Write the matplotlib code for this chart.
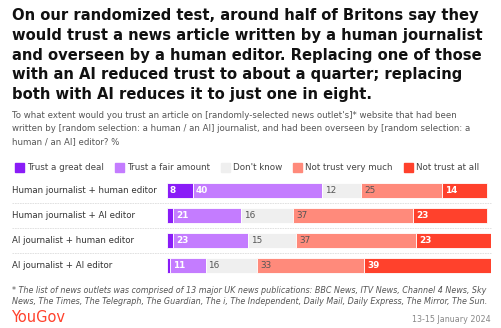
import matplotlib

matplotlib.use("Agg")
import matplotlib.pyplot as plt
from matplotlib.patches import Rectangle

rows = [
    "Human journalist + human editor",
    "Human journalist + AI editor",
    "AI journalist + human editor",
    "AI journalist + AI editor",
]
great_deal = [8, 2, 2, 1]
fair_amount = [40, 21, 23, 11]
dont_know = [12, 16, 15, 16]
not_very_much = [25, 37, 37, 33]
not_at_all = [14, 23, 23, 39]

series_names = ["Trust a great deal", "Trust a fair amount", "Don't know",
                "Not trust very much", "Not trust at all"]
series = [great_deal, fair_amount, dont_know, not_very_much, not_at_all]
colors = ["#8a1cf7", "#c47cff", "#efefef", "#ff8a7b", "#ff412c"]
label_colors = ["white", "white", "#555555", "#555555", "white"]
label_weights = ["bold", "bold", "normal", "normal", "bold"]

W, H = 502, 328
fig = plt.figure(figsize=(W / 100, H / 100), dpi=100)
fig.patch.set_facecolor("white")


def fx(px):
    return px / W


def fy(py):
    return 1 - py / H


title = ("On our randomized test, around half of Britons say they\n"
         "would trust a news article written by a human journalist\n"
         "and overseen by a human editor. Replacing one of those\n"
         "with an AI reduced trust to about a quarter; replacing\n"
         "both with AI reduces it to just one in eight.")
fig.text(fx(12), fy(8), title, ha="left", va="top", fontsize=10.6,
         fontweight="bold", color="#111111", linespacing=1.4)

subtitle = ("To what extent would you trust an article on [randomly-selected news outlet's]* website that had been\n"
            "written by [random selection: a human / an AI] journalist, and had been overseen by [random selection: a\n"
            "human / an AI] editor? %")
fig.text(fx(12), fy(111), subtitle, ha="left", va="top", fontsize=6.2,
         color="#555555", linespacing=1.6)

# legend
legend_x = [15, 115, 221, 293, 404]
for lx, name, c in zip(legend_x, series_names, colors):
    fig.patches.append(Rectangle((fx(lx), fy(172)), fx(9), 9 / H, color=c,
                                 transform=fig.transFigure, figure=fig))
    fig.text(fx(lx + 12), fy(167), name, ha="left", va="center",
             fontsize=6.3, color="#444444")

# bars
ax = fig.add_axes([fx(166.7), fy(277.4), fx(324), 98.8 / H])
ax.set_xlim(0, 100)
ax.set_ylim(len(rows) - 0.5, -0.5)
ax.axis("off")

y = list(range(len(rows)))
left = [0] * len(rows)
for vals, c, lc, lw in zip(series, colors, label_colors, label_weights):
    ax.barh(y, vals, left=left, height=0.61, color=c, edgecolor="white",
            linewidth=0.6)
    for i, v in enumerate(vals):
        if v >= 5:
            ax.text(left[i] + 0.9, i, str(v), ha="left", va="center",
                    fontsize=6.4, color=lc, fontweight=lw)
    left = [a + b for a, b in zip(left, vals)]

for i in range(len(rows)):
    ax.text(-47.8, i, rows[i], ha="left", va="center", fontsize=6.25,
            color="#333333", clip_on=False)
    if i < len(rows) - 1:
        ax.plot([-47.8, 100], [i + 0.5, i + 0.5], color="#dddddd",
                linewidth=0.6, linestyle=(0, (2, 1)), clip_on=False)

footnote = ("* The list of news outlets was comprised of 13 major UK news publications: BBC News, ITV News, Channel 4 News, Sky\n"
            "News, The Times, The Telegraph, The Guardian, The i, The Independent, Daily Mail, Daily Express, The Mirror, The Sun.")
fig.text(fx(12), fy(286), footnote, ha="left", va="top", fontsize=5.8,
         style="italic", color="#555555", linespacing=1.35)

fig.text(fx(11), fy(318), "YouGov", ha="left", va="center", fontsize=10.5,
         color="#ff412c")
fig.text(fx(491), fy(319), "13-15 January 2024", ha="right", va="center",
         fontsize=5.8, color="#888888")

fig.savefig("out.png", dpi=100, facecolor="white")
